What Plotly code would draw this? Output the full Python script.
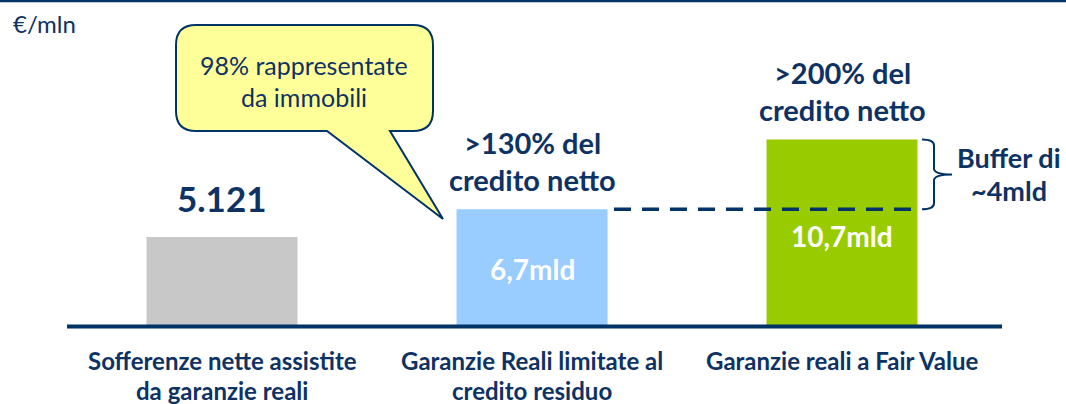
import plotly.graph_objects as go

# ---- data ----
categories = ["Sofferenze nette assistite<br>da garanzie reali",
              "Garanzie Reali limitate al<br>credito residuo",
              "Garanzie reali a Fair Value"]
values = [5121, 6700, 10700]            # €/mln
top_labels = ["5.121", ">130% del<br>credito netto", ">200% del<br>credito netto"]
inner_labels = ["", "6,7mld", "10,7mld"]
bar_colors = ["#C8C8C8", "#99CCFF", "#99CC00"]
callout_text = "98% rappresentate<br>da immobili"
buffer_text = "Buffer di<br>~4mld"
unit_text = "€/mln"

W, H = 1066, 404
NAVY = "#003366"
TXT = "#0E3263"
FONT = "Lato"

# axis mapping (plot area = full page)
x0px, xstep = 222, 310
base_px = 326.5
scale = 57.2  # mln per pixel
xr = [-x0px / xstep, (W - x0px) / xstep]
yr = [-(H - base_px) * scale, base_px * scale]

def px(x, y):
    return x / W, 1 - y / H

xs = list(range(len(categories)))

fig = go.Figure()
fig.add_trace(go.Bar(x=xs, y=values, width=0.487, marker=dict(color=bar_colors, line=dict(width=0)),
                     hoverinfo="skip", showlegend=False))

ann = []
# labels above bars
for i, (v, t) in enumerate(zip(values, top_labels)):
    lines = t.split("<br>")
    if len(lines) == 1:
        ann.append(dict(x=i, y=v, text=lines[0], yshift=39, yanchor="middle", showarrow=False,
                        font=dict(family=FONT, size=35, color=TXT, weight="bold")))
    else:
        for j, ln in enumerate(lines):
            ann.append(dict(x=i, y=v, text=ln, yshift=[67, 30][j], yanchor="middle", showarrow=False,
                            font=dict(family=FONT, size=29, color=TXT, weight="bold")))
# inner labels
inner_shift = [0, -1, -3]
for i, (v, t) in enumerate(zip(values, inner_labels)):
    if t:
        ann.append(dict(x=i, y=v / 2, text=t, yshift=inner_shift[i], yanchor="middle", showarrow=False,
                        font=dict(family=FONT, size=28, color="white", weight="bold")))
# category labels
for i, c in enumerate(categories):
    for j, ln in enumerate(c.split("<br>")):
        ann.append(dict(x=i, y=0, text=ln, yshift=-(34 + 30 * j), yanchor="middle", showarrow=False,
                        font=dict(family=FONT, size=24, color=TXT, weight="bold")))
# callout text
for j, ln in enumerate(callout_text.split("<br>")):
    ax_, ay_ = px(304, 65 + 32 * j)
    ann.append(dict(x=ax_, y=ay_, xref="paper", yref="paper", text=ln, showarrow=False,
                    xanchor="center", yanchor="middle",
                    font=dict(family=FONT, size=25, color=TXT)))
# buffer text
for j, ln in enumerate(buffer_text.split("<br>")):
    bx, by = px(1009, 157 + 33 * j)
    ann.append(dict(x=bx, y=by, xref="paper", yref="paper", text=ln, showarrow=False,
                    xanchor="center", yanchor="middle",
                    font=dict(family=FONT, size=27, color=TXT, weight="bold")))
# unit
ux, uy = px(11, 23)
ann.append(dict(x=ux, y=uy, xref="paper", yref="paper", text=unit_text, showarrow=False,
                xanchor="left", yanchor="middle", font=dict(family=FONT, size=24, color=TXT)))

shapes = []
# top border
shapes.append(dict(type="line", xref="paper", yref="paper", x0=0, x1=1, y0=1 - 1 / H, y1=1 - 1 / H,
                   line=dict(color=NAVY, width=2.5)))
# baseline
shapes.append(dict(type="line", x0=(67 - x0px) / xstep, x1=(1002 - x0px) / xstep, y0=0, y1=0,
                   line=dict(color=NAVY, width=4)))
# dashed reference line at bar 2 value
shapes.append(dict(type="line", x0=(614 - x0px) / xstep, x1=(916 - x0px) / xstep,
                   y0=values[1], y1=values[1], line=dict(color=NAVY, width=3.5, dash="17px,11px")))
# curly brace between bar2 and bar3 values
def d(xp, yv):
    return f"{(xp - x0px) / xstep},{yv}"
ya, yb = values[2], values[1]
ym = (ya + yb) / 2
r = 6 * scale
brace = (f"M {d(922, ya)} Q {d(934, ya)} {d(934, ya - r)} L {d(934, ym + r)} "
         f"Q {d(934, ym)} {d(952, ym)} Q {d(934, ym)} {d(934, ym - r)} "
         f"L {d(934, yb + r)} Q {d(934, yb)} {d(922, yb)}")
shapes.append(dict(type="path", path=brace, line=dict(color=NAVY, width=2)))

# callout bubble (paper coords)
def p(x, y):
    a, b = px(x, y)
    return f"{a},{b}"
L, T, R, B, rr = 176, 25, 433, 131, 20
bubble = (f"M {p(L + rr, T)} L {p(R - rr, T)} Q {p(R, T)} {p(R, T + rr)} "
          f"L {p(R, B - rr)} Q {p(R, B)} {p(R - rr, B)} "
          f"L {p(390, B)} L {p(443, 219)} L {p(327, B)} "
          f"L {p(L + rr, B)} Q {p(L, B)} {p(L, B - rr)} "
          f"L {p(L, T + rr)} Q {p(L, T)} {p(L + rr, T)} Z")
shapes.append(dict(type="path", xref="paper", yref="paper", path=bubble,
                   fillcolor="#FFFF99", line=dict(color=NAVY, width=2)))

fig.update_layout(
    width=W, height=H, margin=dict(l=0, r=0, t=0, b=0),
    paper_bgcolor="white", plot_bgcolor="white",
    xaxis=dict(range=xr, visible=False, fixedrange=True),
    yaxis=dict(range=yr, visible=False, fixedrange=True),
    annotations=ann, shapes=shapes, showlegend=False,
)
fig.write_html("out.html", config={"displayModeBar": False},
               post_script="document.body.style.margin='0';document.body.style.overflow='hidden';")
